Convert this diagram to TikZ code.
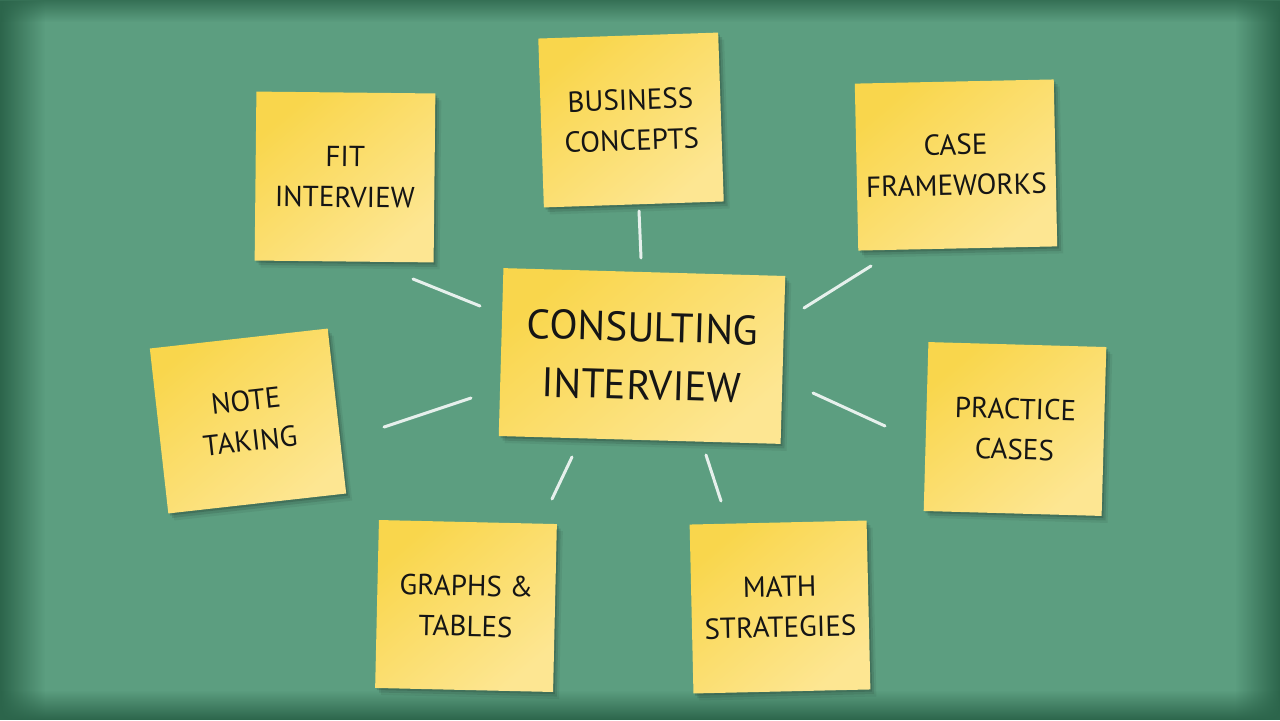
\documentclass[tikz,border=0pt]{standalone}
\usepackage{fontspec}
\setmainfont{PT Sans}
\usetikzlibrary{shadows,fadings}
\definecolor{board}{HTML}{5C9E80}
\definecolor{boardedge}{HTML}{2C654B}
\definecolor{noteA}{HTML}{F9D64C}
\definecolor{noteB}{HTML}{FDE692}
\definecolor{ink}{HTML}{151515}
\tikzset{
  sticky/.style={shade, top color=noteA, bottom color=noteB, shading angle=40,
    inner sep=0pt, align=center, text=ink,
    font=\fontsize{16.5}{23}\selectfont,
    drop shadow={shadow xshift=1pt, shadow yshift=-1.2pt, opacity=0.14, fill=black},
    drop shadow={shadow xshift=2.2pt, shadow yshift=-2.6pt, opacity=0.1, fill=black},
    drop shadow={shadow xshift=3.4pt, shadow yshift=-4pt, opacity=0.06, fill=black}},
  bignote/.style={sticky, font=\fontsize{23.5}{33}\selectfont},
  chalk/.style={draw=white, draw opacity=0.85, line width=1.7pt, line cap=round},
}
\begin{document}
\begin{tikzpicture}[x=0.02cm,y=-0.02cm]
\useasboundingbox (0,0) rectangle (1280,720);
% board
\fill[board] (0,0) rectangle (1280,720);
\fill[boardedge, path fading=east] (0,0) rectangle (45,720);
\fill[boardedge, path fading=west] (1235,0) rectangle (1280,720);
\fill[boardedge, fill opacity=0.8, path fading=south] (0,0) rectangle (1280,22);
\fill[boardedge, path fading=north] (0,690) rectangle (1280,720);
% notes
\node[bignote, minimum width=5.64cm, minimum height=3.36cm, rotate=-1.6] (core) at (642,356) {CONSULTING\\INTERVIEW};
\node[sticky, minimum width=3.58cm, minimum height=3.38cm, rotate=-0.6] (fit) at (345,177) {FIT\\INTERVIEW};
\node[sticky, minimum width=3.60cm, minimum height=3.38cm, rotate=1.9] (biz) at (631,120) {BUSINESS\\CONCEPTS};
\node[sticky, minimum width=3.98cm, minimum height=3.34cm, rotate=1.2] (case) at (956,165) {CASE\\FRAMEWORKS};
\node[sticky, minimum width=3.56cm, minimum height=3.38cm, rotate=-1.6] (prac) at (1015,429) {PRACTICE\\CASES};
\node[sticky, minimum width=3.58cm, minimum height=3.32cm, rotate=6.4] (notes) at (248,421) {NOTE\\TAKING};
\node[sticky, minimum width=3.56cm, minimum height=3.36cm, rotate=-1.3] (graph) at (466,606) {GRAPHS \&\\TABLES};
\node[sticky, minimum width=3.54cm, minimum height=3.38cm, rotate=1.3] (math) at (780,607) {MATH\\STRATEGIES};
% chalk ends
\coordinate (fitA) at (413,279);  \coordinate (fitB) at (480,306);
\coordinate (bizA) at (639,211);  \coordinate (bizB) at (641,258);
\coordinate (caseA) at (871,266); \coordinate (caseB) at (804,308);
\coordinate (notA) at (384,427);  \coordinate (notB) at (471,398);
\coordinate (pracA) at (885,426); \coordinate (pracB) at (813,393);
\coordinate (grA) at (552,499);   \coordinate (grB) at (572,457);
\coordinate (maA) at (721,501);   \coordinate (maB) at (706,455);
\draw[chalk] (fitA) -- (fitB);
\draw[chalk] (bizA) -- (bizB);
\draw[chalk] (caseA) -- (caseB);
\draw[chalk] (notA) -- (notB);
\draw[chalk] (pracA) -- (pracB);
\draw[chalk] (grA) -- (grB);
\draw[chalk] (maA) -- (maB);
\end{tikzpicture}
\end{document}
